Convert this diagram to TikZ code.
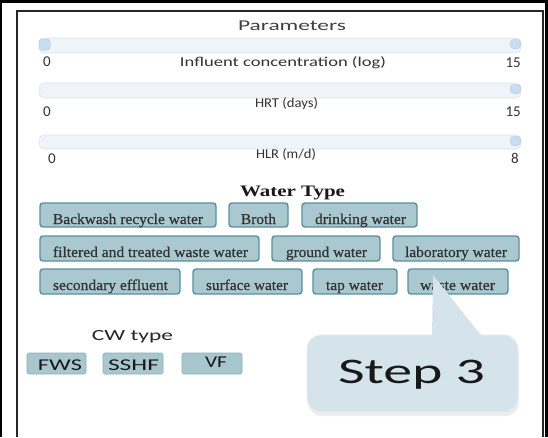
\documentclass[tikz,border=0pt]{standalone}
\usepackage{fontspec}
\usepackage{graphicx}
\setmainfont{Liberation Serif}
\newfontfamily\ui{Carlito}
\newfontfamily\btnfont[FakeBold=0.6]{Liberation Serif}
\newcommand\fw[2]{\resizebox{#1pt}{\height}{#2}}
\definecolor{btnfill}{HTML}{A9C8D0}
\definecolor{btnline}{HTML}{5B8F9D}
\definecolor{cwfill}{HTML}{A8C6CD}
\definecolor{cwline}{HTML}{8DB1BA}
\definecolor{trackfill}{HTML}{EEF4F9}
\definecolor{trackline}{HTML}{DCE6EE}
\definecolor{knobfill}{HTML}{CADCEF}
\definecolor{knobline}{HTML}{B7CDE3}
\definecolor{bubblefill}{HTML}{D5E3EB}
\definecolor{labelgray}{HTML}{333333}
\newcommand\wbtn[9]{%
  \node[wbox, minimum width={#4-#2}, minimum height={#5-#3}] (#1) at ({(#2+#4)/2},{(#3+#5)/2}) {};
  \node[wtext] (#1t) at (#6,#7) {\fw{#8}{#9}};}
\newcommand\cwbtn[8]{%
  \node[cwbox, minimum width={#4-#2}, minimum height={#5-#3}] (#1) at ({(#2+#4)/2},{(#3+#5)/2}) {};
  \node[cwtext] (#1t) at (#6,#7) {\fw{#8}{#1}};}
\begin{document}
\begin{tikzpicture}[x=1pt,y=-1pt,
  lbl/.style={inner sep=0pt, anchor=base, text=labelgray, font=\ui\fontsize{13.5}{15}\selectfont},
  num/.style={inner sep=0pt, text=labelgray, font=\ui\fontsize{15}{17}\selectfont},
  track/.style={draw=trackline, fill=trackfill, line width=0.6pt, rounded corners=5pt, inner sep=0pt},
  knob/.style={draw=knobline, fill=knobfill, line width=0.5pt, rounded corners=3pt, inner sep=0pt},
  wbox/.style={draw=btnline, fill=btnfill, line width=1.4pt, rounded corners=3pt, inner sep=0pt},
  wtext/.style={inner sep=0pt, anchor=base, text=black!80, font=\btnfont\fontsize{15}{17}\selectfont},
  cwbox/.style={draw=cwline, fill=cwfill, line width=0.6pt, rounded corners=1.5pt, inner sep=0pt},
  cwtext/.style={inner sep=0pt, anchor=base, text=black!90, font=\ui\fontsize{16.5}{18}\selectfont},
  bubblebox/.style={draw=white!85!gray, fill=bubblefill, line width=0.8pt, rounded corners=14pt, inner sep=0pt}]
\useasboundingbox (0,0) rectangle (548,437);
\fill[white] (0,0) rectangle (548,437);
% frames
\draw[line width=2.5pt, black] (1,437) -- (1,1.5) -- (546.5,1.5) -- (546.5,437);
\draw[line width=1.8pt, black!85] (17,437) -- (17,11) -- (543,11) -- (543,437);
% Parameters
\node[lbl, font=\ui\fontsize{15}{17}\selectfont, text=black!75] (params) at (292,30) {\fw{108}{Parameters}};
% sliders
\node[track, minimum width=482, minimum height=15] (tr1) at (280,45.5) {};
\node[knob, minimum width=11, minimum height=11] (k1a) at (44.5,44.5) {};
\node[knob, minimum width=10, minimum height=9] (k1b) at (515.5,44) {};
\node[track, minimum width=482, minimum height=15] (tr2) at (280,90.5) {};
\node[knob, minimum width=10, minimum height=9] (k2b) at (515.5,89) {};
\node[track, minimum width=482, minimum height=14] (tr3) at (280,142) {};
\node[knob, minimum width=10, minimum height=9] (k3b) at (515.5,141) {};
% slider labels
\node[num, anchor=base west] (min1) at (43,66) {0};
\node[lbl] (lab1) at (283,66) {\fw{206}{Influent concentration (log)}};
\node[num, anchor=base east] (max1) at (521,67) {15};
\node[num, anchor=base west] (min2) at (43,116) {0};
\node[lbl] (lab2) at (286.5,107) {\fw{63}{HRT (days)}};
\node[num, anchor=base east] (max2) at (521,116) {15};
\node[num, anchor=base west] (min3) at (48,163) {0};
\node[lbl] (lab3) at (286,158) {\fw{60}{HLR (m/d)}};
\node[num, anchor=base east] (max3) at (519,163) {8};
% Water type
\node[inner sep=0pt, anchor=base, text=black!90, font=\bfseries\fontsize{16}{18}\selectfont] (wt) at (292.5,196) {\fw{105}{Water Type}};
\wbtn{b1}{40}{203}{216}{227}{128}{224}{150}{Backwash recycle water}
\wbtn{b2}{229}{203}{288}{227}{258.5}{224}{35}{Broth}
\wbtn{b3}{302}{203}{417}{227}{360.5}{224}{91}{drinking water}
\wbtn{b4}{40}{236}{259}{261}{150.5}{257}{195}{filtered and treated waste water}
\wbtn{b5}{272}{236}{380}{261}{326.5}{257}{81}{ground water}
\wbtn{b6}{393}{236}{519}{261}{456}{257}{102}{laboratory water}
\wbtn{b7}{40}{269}{180}{294}{110.5}{290}{115}{secondary effluent}
\wbtn{b8}{193}{269}{302}{294}{247}{290}{82}{surface water}
\wbtn{b9}{313}{269}{397}{294}{354.5}{290}{57}{tap water}
\wbtn{b10}{408}{269}{508}{294}{457.5}{290}{75}{waste water}
% CW type
\node[lbl, font=\ui\fontsize{15.5}{17}\selectfont, text=black!85] (cw) at (132.5,340) {\fw{81}{CW type}};
\cwbtn{FWS}{27}{353}{86}{374}{60}{370}{44}
\cwbtn{SSHF}{103}{353}{163}{374}{133.5}{370}{51}
\cwbtn{VF}{182}{353}{242}{374}{216}{367}{22}
% callout
\fill[black!7, rounded corners=14pt] (308,339) rectangle (519,416);
\node[bubblebox, minimum width=211, minimum height=77] (bubble) at (412.5,373.5) {};
\fill[bubblefill] (432,336.5) -- (433,275) -- (482,336.5) -- cycle;
\node[inner sep=0pt, anchor=base, text=black!90, font=\ui\fontsize{36}{40}\selectfont] (step) at (411.5,383) {\fw{147}{Step 3}};
\end{tikzpicture}
\end{document}
